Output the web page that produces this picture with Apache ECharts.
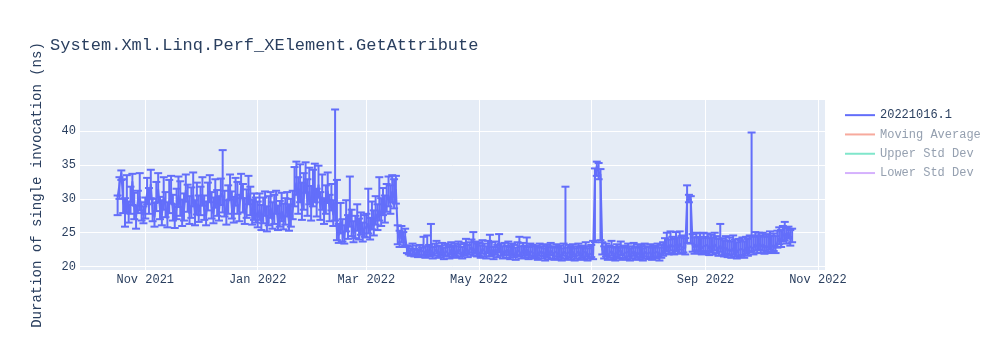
<!DOCTYPE html>
<html>
<head>
<meta charset="utf-8">
<script src="https://cdn.jsdelivr.net/npm/echarts@6/dist/echarts.min.js"></script>
<style>
html,body{margin:0;padding:0;background:#fff;}
#chart{width:1000px;height:350px;}
</style>
</head>
<body>
<div id="chart"></div>
<script>
// ---- data (one run per day, starting 2021-10-17) ----
const startDate = [2021, 9, 17];
const seriesNames = ['20221016.1', 'Moving Average', 'Upper Std Dev', 'Lower Std Dev'];

const durations = [
  // Oct 2021 (17-31)
  30.3,32.1,33.9,29.5,28.4,30.1,27.9,29.2,32.6,28.8,27.4,29.6,30.4,28.1,27.6,
  // Nov
  28.6,30.9,29.4,32.2,28.1,27.3,29.8,31.4,28.5,27.6,30.2,28.9,27.1,29.6,31.0,28.3,26.9,28.7,30.5,29.1,27.5,28.2,31.3,29.7,27.8,28.9,30.6,27.4,29.3,28.0,
  // Dec
  29.1,30.6,28.4,27.5,29.9,31.2,28.7,27.8,30.3,29.0,28.2,30.8,30.5,28.9,27.6,29.4,31.5,28.6,27.9,30.7,29.3,28.1,31.8,29.6,27.7,28.8,30.9,29.2,27.5,28.4,27.9,
  // Jan 2022
  27.2,28.4,26.6,27.9,29.1,26.3,27.5,28.7,26.9,27.8,29.3,26.5,27.1,28.2,26.8,27.6,28.9,26.4,27.3,28.5,30.8,32.4,29.6,31.5,28.9,30.2,32.8,29.4,31.1,28.6,30.7,
  // Feb
  31.4,29.2,32.1,28.7,30.3,27.9,29.5,31.2,28.4,30.0,27.6,29.5,25.3,24.6,26.8,25.1,24.2,27.3,25.8,28.6,26.2,24.9,25.7,27.1,25.4,26.3,24.8,25.9,
  // Mar
  25.6,26.4,25.2,27.1,26.0,27.8,26.9,28.4,27.5,29.2,28.1,29.8,30.5,29.4,31.1,30.2,31.4,24.9,24.1,25.3,23.8,24.5,22.6,22.3,22.1,22.4,22.0,22.2,21.9,22.3,22.1,
  // Apr
  22.3,21.9,22.5,22.1,22.4,21.8,22.2,22.6,21.9,22.0,22.4,21.7,22.3,22.1,21.8,22.5,22.0,22.3,21.9,22.6,22.2,21.8,22.4,22.7,22.1,22.5,22.9,22.3,22.6,22.2,
  // May
  22.4,22.0,22.7,22.3,21.9,22.8,22.2,22.5,21.8,22.6,22.1,22.9,22.3,21.9,22.4,22.0,22.6,21.8,22.3,22.1,21.7,22.5,22.2,21.9,22.4,22.0,22.6,21.8,22.3,22.1,21.9,
  // Jun
  22.0,21.7,22.3,21.9,22.2,21.6,22.1,21.8,22.4,21.9,21.7,22.2,21.8,22.0,21.6,22.3,21.9,21.7,22.1,21.8,22.2,21.6,21.9,22.3,21.7,22.0,21.8,22.2,21.6,21.9,
  // Jul
  22.1,21.8,33.2,34.8,34.0,33.6,22.5,21.9,22.2,21.7,22.0,22.3,21.8,21.6,22.1,21.9,22.4,21.7,22.0,21.8,22.2,21.6,21.9,22.3,21.7,22.1,21.8,22.0,21.6,22.2,21.9,
  // Aug
  21.8,22.1,21.7,22.0,21.9,22.2,21.6,22.0,22.3,22.8,23.1,22.6,23.3,22.9,22.7,23.2,22.8,23.4,22.9,23.0,22.7,29.8,30.2,29.9,23.1,22.8,23.3,22.9,23.2,22.7,23.0,
  // Sep
  22.8,23.2,22.6,23.0,22.7,23.3,22.9,22.5,23.1,22.6,22.4,22.8,22.3,22.6,22.2,22.7,22.4,22.1,22.5,22.3,22.6,22.2,22.8,22.5,23.0,23.2,22.7,23.3,22.9,23.4,
  // Oct 2022 (1-18)
  22.9,23.3,22.7,23.1,22.8,23.4,22.9,23.2,22.8,23.6,24.2,23.8,24.6,24.9,24.3,25.1,24.0,24.5
];

const errorLow = [
  27.6,30.0,32.8,27.9,25.9,28.0,26.5,27.8,29.1,27.0,25.6,27.9,28.3,26.8,26.4,
  27.1,29.2,27.8,30.1,26.7,25.9,28.2,29.5,27.0,26.1,28.4,27.3,25.8,27.9,29.3,26.8,25.7,27.0,28.8,27.5,26.0,26.8,29.6,28.1,26.3,27.2,28.9,26.1,27.7,26.6,
  27.6,29.0,26.9,26.1,28.3,29.5,27.1,26.4,28.7,27.5,26.8,29.1,28.0,27.4,26.2,27.8,29.9,27.1,26.5,29.0,27.8,26.7,30.1,28.0,26.3,27.2,29.2,27.6,26.2,26.9,26.5,
  25.8,26.9,25.4,26.4,27.5,25.2,26.1,27.2,25.6,26.3,27.8,25.4,25.9,26.7,25.5,26.2,27.4,25.3,25.9,27.0,28.9,30.6,27.8,29.5,26.9,28.4,30.9,27.5,29.2,26.8,28.9,
  29.5,27.4,30.2,26.9,28.4,26.3,27.8,29.4,26.7,28.3,26.0,26.8,23.9,23.5,24.9,23.7,23.4,25.2,24.1,25.9,24.5,23.6,24.2,25.3,24.0,24.7,23.7,24.4,
  24.3,24.9,24.0,25.5,24.6,26.2,25.4,26.8,26.0,27.6,26.5,28.1,28.9,27.8,29.5,28.6,29.3,23.3,22.9,23.6,22.9,23.1,22.0,21.8,21.6,21.8,21.5,21.7,21.4,21.7,21.6,
  21.6,21.3,21.8,21.5,21.7,21.2,21.6,21.9,21.3,21.4,21.7,21.1,21.6,21.5,21.2,21.8,21.4,21.6,21.3,21.9,21.5,21.2,21.7,21.9,21.4,21.8,22.1,21.6,21.9,21.5,
  21.6,21.3,21.9,21.5,21.2,22.0,21.5,21.7,21.1,21.8,21.4,22.1,21.6,21.2,21.7,21.3,21.8,21.1,21.6,21.4,21.0,21.7,21.5,21.2,21.6,21.3,21.8,21.1,21.6,21.4,21.2,
  21.3,21.0,21.6,21.2,21.5,20.9,21.4,21.1,21.7,21.2,21.0,21.5,21.1,21.3,20.9,21.6,21.2,21.0,21.4,21.1,21.5,20.9,21.2,21.6,21.0,21.3,21.1,21.5,20.9,21.2,
  21.4,21.1,23.6,33.4,32.9,23.9,21.8,21.2,21.5,21.0,21.3,21.6,21.1,20.9,21.4,21.2,21.7,21.0,21.3,21.1,21.5,20.9,21.2,21.6,21.0,21.4,21.1,21.3,20.9,21.5,21.2,
  21.1,21.4,21.0,21.3,21.2,21.5,20.9,21.3,21.6,21.9,22.2,21.8,22.4,22.0,21.8,22.3,21.9,22.5,22.0,22.1,21.8,23.5,29.5,23.4,22.2,21.9,22.4,22.0,22.3,21.8,22.1,
  21.9,22.3,21.7,22.1,21.8,22.4,22.0,21.6,22.2,21.7,21.5,21.9,21.4,21.7,21.3,21.8,21.5,21.2,21.6,21.4,21.7,21.3,21.9,21.6,22.1,22.3,21.8,22.4,22.0,22.5,
  22.0,22.4,21.9,22.2,22.0,22.5,22.1,22.3,22.0,22.8,23.3,22.9,23.7,23.9,23.4,24.2,23.1,23.6
];

const errorHigh = [
  30.5,33.2,34.2,32.9,30.1,33.5,29.6,31.8,33.7,30.9,29.0,31.2,33.8,29.5,28.9,
  30.2,33.1,31.6,34.3,30.0,29.4,32.5,33.8,30.3,29.8,33.2,31.0,29.5,32.8,33.4,30.6,29.2,31.5,33.3,32.6,29.9,30.8,33.6,32.1,30.4,31.7,33.9,29.8,32.4,30.5,
  31.8,33.2,30.5,29.6,32.4,33.5,31.0,30.2,32.9,31.3,30.4,33.0,37.2,31.2,29.8,32.0,33.6,31.1,30.3,33.1,32.5,30.6,33.7,32.2,30.1,31.4,33.4,31.8,29.9,30.8,30.2,
  29.6,30.8,29.1,30.2,31.1,28.9,30.4,31.0,29.5,30.6,31.2,29.0,29.7,30.9,29.3,30.1,31.0,29.2,30.0,31.2,34.7,35.5,33.2,35.1,32.4,33.8,35.4,32.9,34.6,31.9,34.3,
  35.2,31.5,34.9,31.0,33.6,30.1,32.0,33.9,30.6,32.2,29.8,43.2,32.8,26.3,29.4,27.0,26.1,29.8,27.6,33.3,28.4,26.7,27.5,29.2,27.1,28.0,26.5,27.6,
  27.8,31.5,27.2,29.6,28.3,30.4,29.2,33.2,30.1,31.6,30.5,32.2,33.3,32.0,33.5,32.9,33.4,26.1,25.3,26.0,25.1,25.6,23.1,23.0,22.7,23.4,22.6,23.1,22.5,23.2,22.8,
  24.4,23.0,24.6,23.2,26.3,22.9,23.4,23.8,23.0,23.1,23.5,22.8,23.4,23.2,22.9,23.6,23.1,23.4,23.0,23.7,23.3,22.9,23.5,24.1,23.2,23.6,24.0,25.1,23.7,23.4,
  23.6,23.1,23.9,23.4,23.0,23.8,24.7,23.6,22.9,23.7,23.2,24.8,23.4,23.0,23.5,23.1,23.7,22.9,23.4,23.2,22.8,23.6,24.4,23.0,23.5,23.1,24.3,22.9,23.4,23.2,23.0,
  23.1,22.8,23.4,23.0,23.3,22.7,23.2,22.9,23.5,23.0,22.8,23.3,22.9,23.1,22.7,23.4,31.8,22.8,23.2,22.9,23.3,22.7,23.0,23.4,22.8,23.1,22.9,23.6,22.7,23.0,
  23.2,23.8,34.5,35.5,35.3,34.4,23.6,23.0,23.4,22.9,23.1,23.8,22.9,22.8,23.3,23.0,23.7,22.8,23.1,22.9,23.4,22.7,23.0,23.5,22.8,23.3,22.9,23.2,22.7,23.4,23.0,
  22.9,23.3,22.8,23.1,23.0,23.4,22.8,23.2,23.6,24.2,25.0,24.0,25.2,24.4,24.1,25.1,24.3,25.2,24.5,24.6,24.2,32.0,30.6,30.4,24.8,24.3,25.0,24.4,24.9,24.2,25.0,
  24.4,24.9,24.2,24.7,24.3,25.0,24.5,24.1,26.3,24.2,23.9,24.5,23.8,24.3,23.7,24.6,24.0,23.6,24.1,23.9,24.3,23.7,24.4,24.1,24.6,39.8,24.4,25.1,24.6,25.0,
  24.6,25.0,24.4,24.8,24.5,25.2,24.6,24.9,24.5,25.3,25.8,25.4,26.0,26.6,25.7,25.9,25.4,25.6
];

const xTickMonths = [[2021,10],[2022,0],[2022,2],[2022,4],[2022,6],[2022,8],[2022,10]];
const xTickLabels = ['Nov 2021','Jan 2022','Mar 2022','May 2022','Jul 2022','Sep 2022','Nov 2022'];
const yTicks = [20, 25, 30, 35, 40];

// ---- build ----
const n = Math.min(durations.length, errorLow.length, errorHigh.length);
const times = [];
for (let i = 0; i < n; i++) times.push(new Date(startDate[0], startDate[1], startDate[2] + i).getTime());
const lineData = [], errData = [];
for (let i = 0; i < n; i++) {
  lineData.push([times[i], durations[i]]);
  errData.push([times[i], errorLow[i], errorHigh[i]]);
}
const xTickValues = xTickMonths.map(m => new Date(m[0], m[1], 1).getTime());

const FONT = '"Liberation Mono", "Courier New", monospace';
const TXT = '#2a3f5f';
const BLUE = '#636efa';

const chart = echarts.init(document.getElementById('chart'), null, {renderer: 'canvas'});
chart.setOption({
  animation: false,
  backgroundColor: '#fff',
  title: {
    text: 'System.Xml.Linq.Perf_XElement.GetAttribute',
    left: 50, top: 37, padding: 0,
    textStyle: {fontFamily: FONT, fontSize: 17, fontWeight: 'normal', color: TXT}
  },
  legend: {
    orient: 'vertical', left: 845, top: 108, padding: 0,
    icon: 'rect', itemWidth: 30, itemHeight: 2, itemGap: 5,
    textStyle: {fontFamily: FONT, fontSize: 12, color: TXT, lineHeight: 14.3},
    data: [
      {name: seriesNames[0], itemStyle: {color: BLUE}, textStyle: {color: TXT}},
      {name: seriesNames[1], itemStyle: {color: '#f7aa9d'}, textStyle: {color: '#95a0b0'}},
      {name: seriesNames[2], itemStyle: {color: '#80e6cb'}, textStyle: {color: '#95a0b0'}},
      {name: seriesNames[3], itemStyle: {color: '#d5b1fd'}, textStyle: {color: '#95a0b0'}}
    ]
  },
  grid: {left: 80, right: 175, top: 100, bottom: 80, show: true, backgroundColor: '#E5ECF6', borderWidth: 0, containLabel: false},
  xAxis: {
    type: 'value',
    min: new Date(2021, 8, 26, 14).getTime(),
    max: new Date(2022, 10, 4, 20).getTime(),
    axisLine: {show: false},
    axisTick: {show: false, customValues: xTickValues},
    axisLabel: {
      customValues: xTickValues, margin: 4,
      fontFamily: FONT, fontSize: 12, color: TXT,
      formatter: v => { const k = xTickValues.indexOf(v); return k >= 0 ? xTickLabels[k] : ''; }
    },
    splitLine: {show: true, lineStyle: {color: '#fff', width: 1}}
  },
  yAxis: {
    type: 'value', min: 19.5, max: 44.6,
    name: 'Duration of single invocation (ns)',
    nameLocation: 'middle', nameGap: 36,
    nameTextStyle: {fontFamily: FONT, fontSize: 14, color: TXT},
    axisLine: {show: false},
    axisTick: {show: false, customValues: yTicks},
    axisLabel: {customValues: yTicks, margin: 4, fontFamily: FONT, fontSize: 12, color: TXT},
    splitLine: {show: true, lineStyle: {color: '#fff', width: 1}}
  },
  series: [
    {
      name: seriesNames[0], type: 'custom',
      renderItem: function (params, api) {
        const x = api.value(0), lo = api.value(1), hi = api.value(2);
        const a = api.coord([x, lo]), b = api.coord([x, hi]);
        const w = 4, st = {stroke: BLUE, lineWidth: 2};
        return {type: 'group', children: [
          {type: 'line', shape: {x1: a[0], y1: a[1], x2: b[0], y2: b[1]}, style: st},
          {type: 'line', shape: {x1: a[0] - w, y1: a[1], x2: a[0] + w, y2: a[1]}, style: st},
          {type: 'line', shape: {x1: b[0] - w, y1: b[1], x2: b[0] + w, y2: b[1]}, style: st}
        ]};
      },
      encode: {x: 0, y: [1, 2]},
      data: errData, z: 2
    },
    {
      name: seriesNames[0], type: 'line', data: lineData,
      showSymbol: false, symbol: 'none',
      lineStyle: {color: BLUE, width: 2}, itemStyle: {color: BLUE}, z: 3
    },
    {name: seriesNames[1], type: 'line', data: [], itemStyle: {color: '#EF553B'}},
    {name: seriesNames[2], type: 'line', data: [], itemStyle: {color: '#00cc96'}},
    {name: seriesNames[3], type: 'line', data: [], itemStyle: {color: '#ab63fa'}}
  ]
});
</script>
</body>
</html>
